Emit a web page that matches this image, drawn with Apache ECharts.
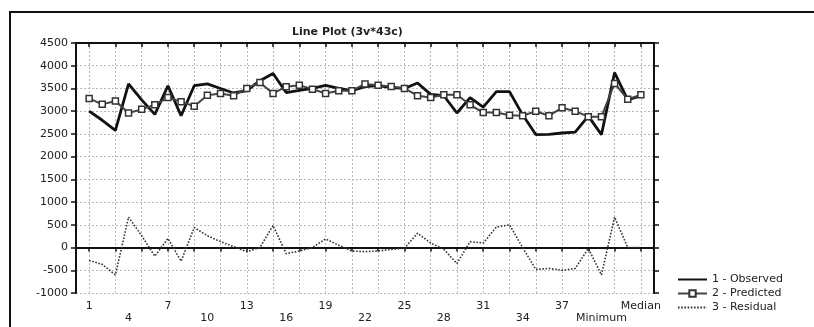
<!DOCTYPE html>
<html><head><meta charset="utf-8">
<script src="https://cdn.jsdelivr.net/npm/echarts@6/dist/echarts.min.js"></script>
<style>html,body{margin:0;padding:0;background:#fff}#c{width:814px;height:327px}</style>
</head><body><div id="c"></div>
<script>
const categories = ['1','2','3','4','5','6','7','8','9','10','11','12','13','14','15','16','17','18','19','20',
  '21','22','23','24','25','26','27','28','29','30','31','32','33','34','35','36','37','38','39',
  'Minimum','Maximum','Mean','Median'];
const observed = [3000,2800,2580,3600,3250,2930,3560,2900,3560,3600,3500,3400,3450,3670,3830,3410,3460,3500,3570,3500,
  3450,3540,3560,3520,3500,3620,3370,3340,2960,3300,3090,3430,3430,2920,2485,2490,2520,2540,2890,
  2485,3850,3250,3340];
const predicted = [3280,3150,3225,2960,3040,3140,3300,3210,3110,3350,3390,3340,3500,3630,3390,3540,3570,3485,3390,3450,
  3450,3600,3570,3545,3500,3340,3300,3360,3360,3140,2970,2970,2910,2900,3000,2900,3075,3000,2880,
  2880,3610,3260,3360];
const residual = [-285,-370,-600,670,260,-190,200,-300,440,260,130,20,-90,0,485,-135,-75,0,190,50,
  -75,-90,-75,-40,-15,315,100,-40,-350,130,100,450,500,0,-480,-460,-500,-460,-20,
  -600,670,0,0];
const yMin = -1000, yMax = 4500, yStep = 500;
const seriesNames = ['1 - Observed','2 - Predicted','3 - Residual'];
const titleText = 'Line Plot (3v*43c)';

const FONT = 'DejaVu Sans';
const inRange = i => i >= 0 && i < categories.length;
const chart = echarts.init(document.getElementById('c'), null, {renderer:'canvas'});
const gridLine = {show:true, lineStyle:{color:'#b8b8b8', type:[2,2], width:1}};
const labelBase = {margin:8, fontFamily:FONT, fontSize:11, color:'#222'};
chart.setOption({
  backgroundColor:'#fff',
  animation:false,
  title:{text:titleText, left:287, top:22, textStyle:{fontFamily:FONT, fontSize:11, fontWeight:'bold', color:'#222'}},
  graphic:[{type:'rect', shape:{x:10, y:12, width:900, height:400}, style:{fill:null, stroke:'#111', lineWidth:2}, silent:true}],
  grid:{left:76, right:160, top:43, bottom:34},
  legend:{orient:'vertical', left:677, top:274, padding:0, itemWidth:29, itemHeight:8, itemGap:3,
    textStyle:{fontFamily:FONT, fontSize:11, color:'#222'},
    data:[{name:seriesNames[0], itemStyle:{opacity:0}},
          {name:seriesNames[1]},
          {name:seriesNames[2], itemStyle:{opacity:0}}]},
  xAxis:[{
    type:'category', data:categories, boundaryGap:false, min:-1, max:categories.length,
    axisLine:{lineStyle:{color:'#111', width:2}},
    axisTick:{show:true, length:4, lineStyle:{color:'#111', width:1.5}, interval:(i)=>inRange(i) && i%2===0},
    splitLine:Object.assign({interval:(i)=>inRange(i) && i%2===0}, gridLine),
    axisLabel:Object.assign({interval:(i)=>inRange(i) && i%6===0}, labelBase)
  },{
    type:'category', data:categories, boundaryGap:false, min:-1, max:categories.length, position:'bottom', offset:12,
    axisLine:{show:false}, axisTick:{show:false}, splitLine:{show:false},
    axisLabel:Object.assign({interval:(i)=>inRange(i) && i%6===3}, labelBase)
  },{
    type:'category', data:categories, boundaryGap:false, min:-1, max:categories.length, position:'top',
    axisLine:{lineStyle:{color:'#111', width:2}},
    axisTick:{show:true, inside:true, length:4, lineStyle:{color:'#111', width:1.5}, interval:(i)=>inRange(i) && i%2===0},
    splitLine:{show:false}, axisLabel:{show:false}
  }],
  yAxis:[{
    type:'value', min:yMin, max:yMax, interval:yStep,
    axisLine:{show:true, lineStyle:{color:'#111', width:2}},
    axisTick:{show:true, length:5, lineStyle:{color:'#111', width:1.5}},
    splitLine:gridLine,
    axisLabel:Object.assign({formatter:(v)=>String(v)}, labelBase)
  },{
    type:'value', min:yMin, max:yMax, interval:yStep, position:'right',
    axisLine:{show:true, lineStyle:{color:'#111', width:2}},
    axisTick:{show:true, length:5, lineStyle:{color:'#111', width:1.5}},
    splitLine:{show:false}, axisLabel:{show:false}
  }],
  series:[
    {name:seriesNames[0], type:'line', data:observed, symbol:'none', lineStyle:{color:'#111', width:2.8}, itemStyle:{color:'#111'}, z:3},
    {name:seriesNames[1], type:'line', data:predicted, symbol:'rect', symbolSize:6, showAllSymbol:true,
      lineStyle:{color:'#444', width:2}, itemStyle:{color:'#fff', borderColor:'#333', borderWidth:1.5}, z:4},
    {name:seriesNames[2], type:'line', data:residual, symbol:'none', lineStyle:{color:'#333', width:1.6, type:[1.6,1.6]}, itemStyle:{color:'#333'}, z:2}
  ]
});
</script></body></html>
